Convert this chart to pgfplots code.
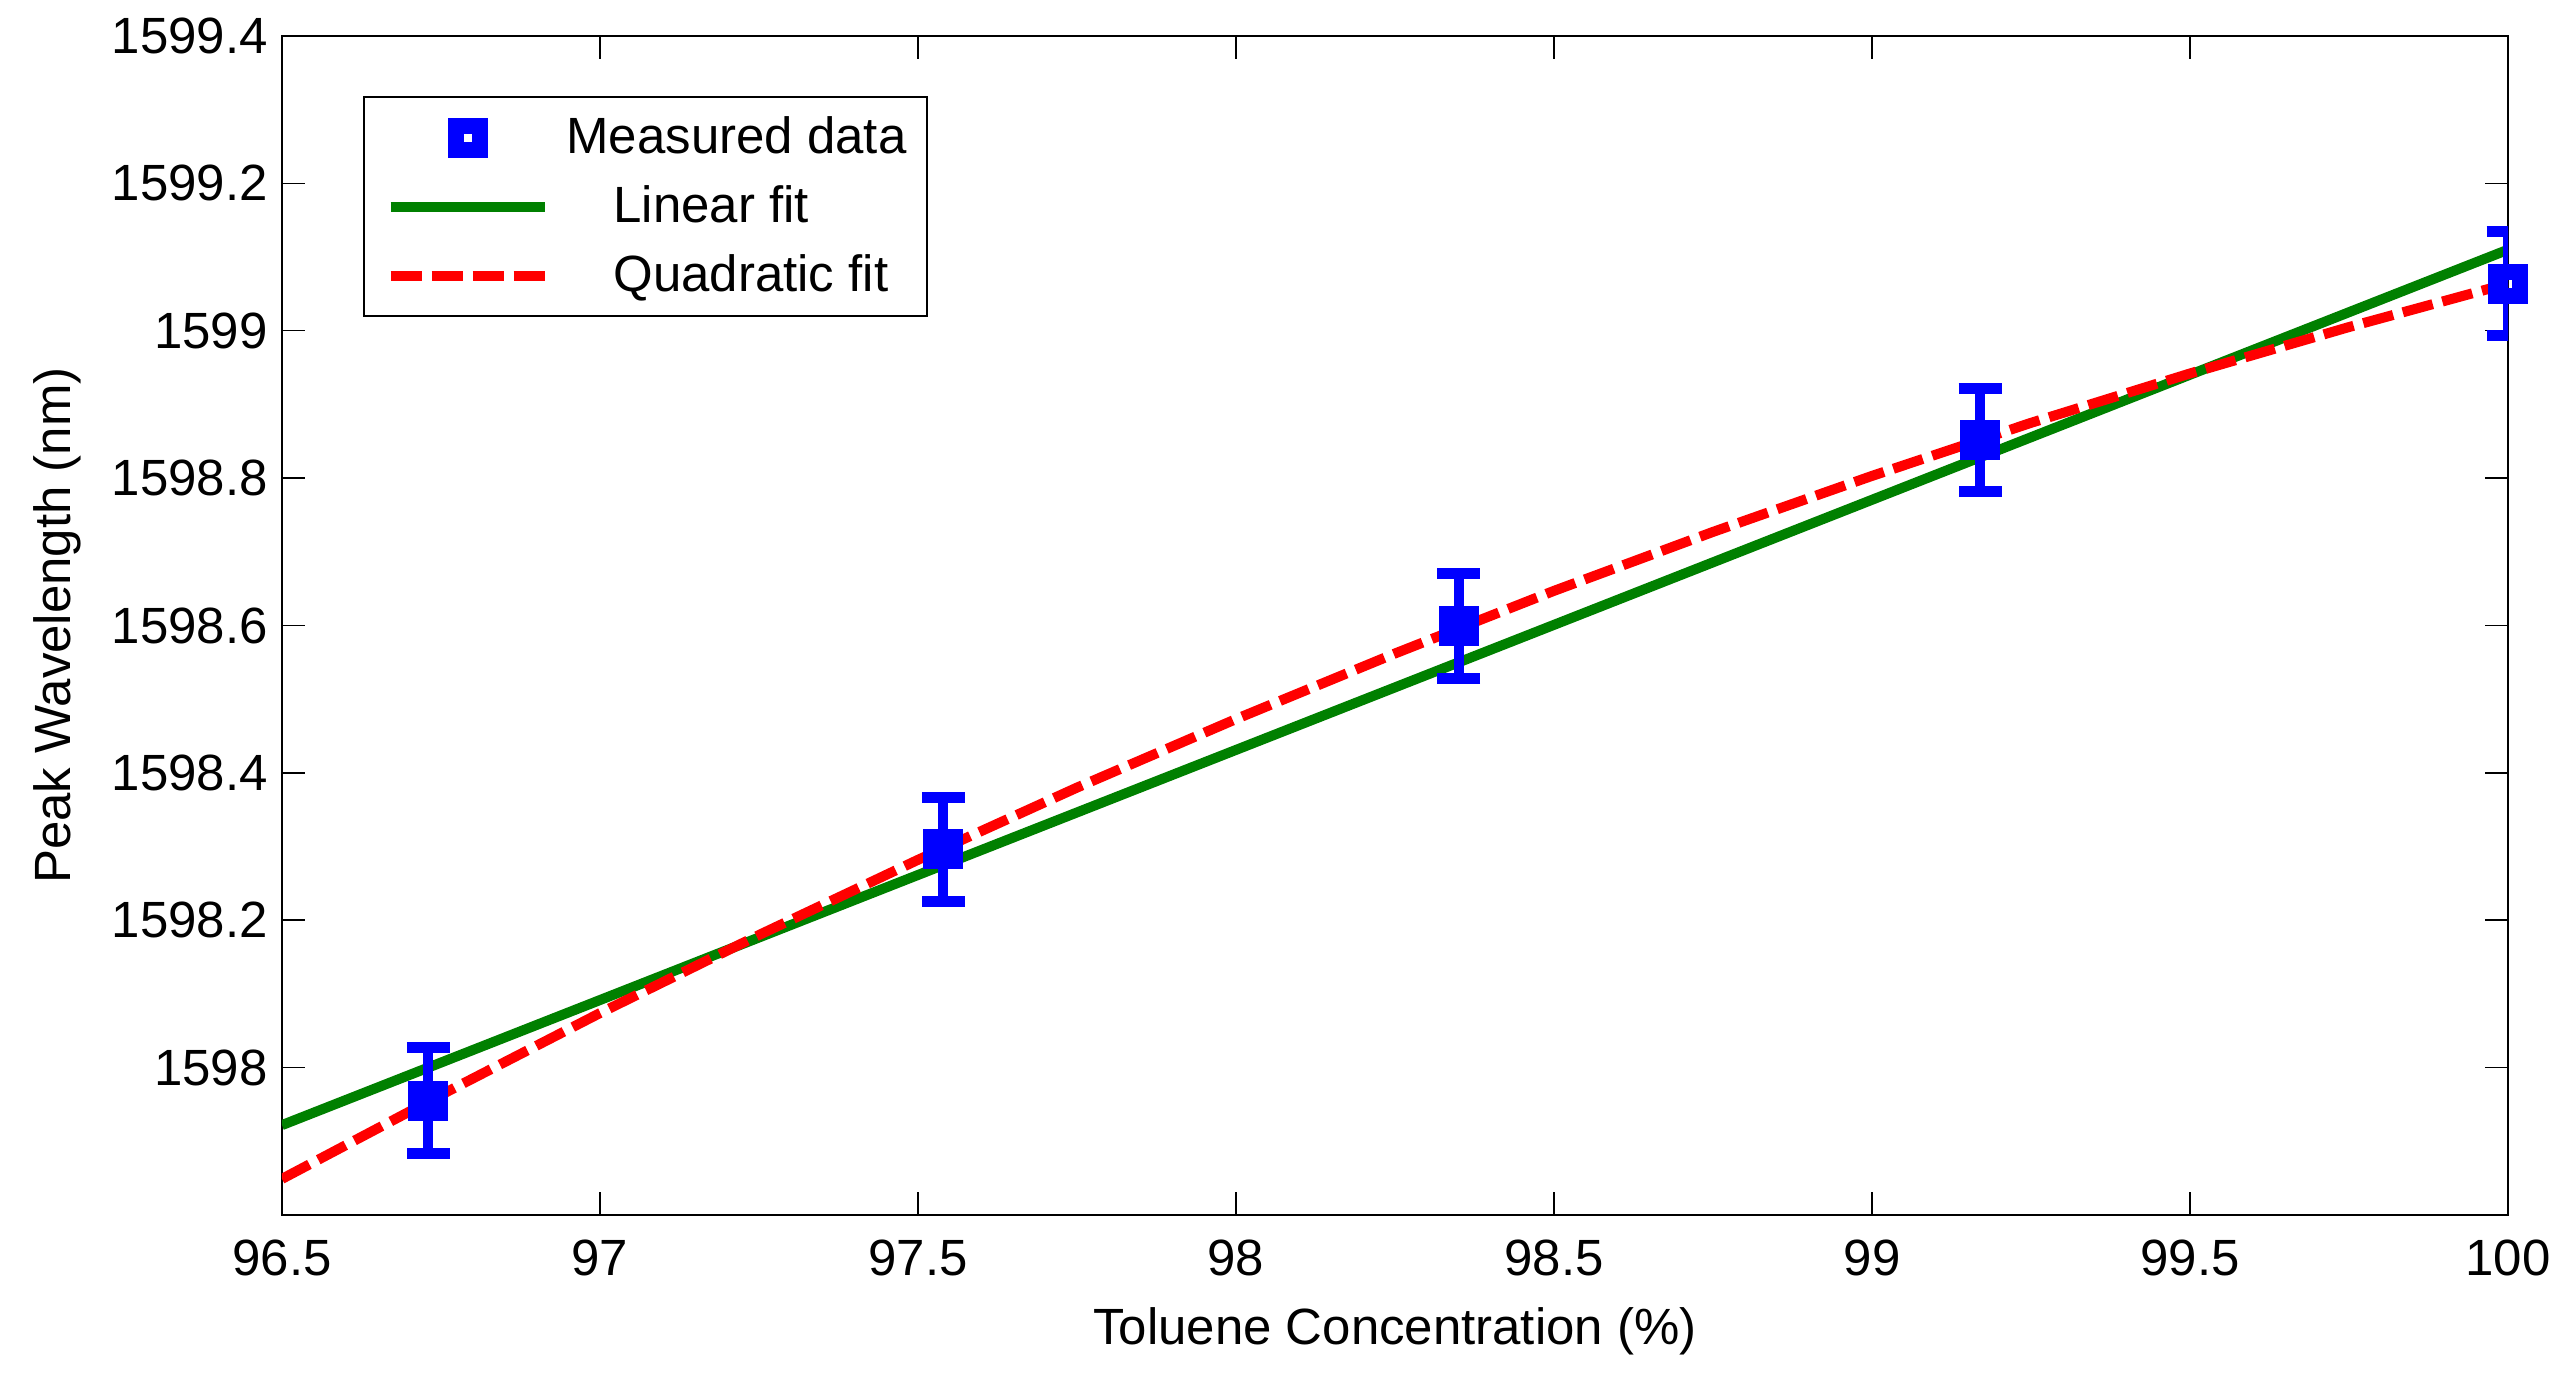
\documentclass[border=0pt]{standalone}
\usepackage{fontspec}
\setmainfont{Liberation Sans}
\usepackage{pgfplots}
\pgfplotsset{compat=1.18}
\definecolor{mgreen}{RGB}{0,128,0}
\definecolor{mblue}{RGB}{0,0,255}
\definecolor{mred}{RGB}{255,0,0}
\newcommand{\lfont}{\fontsize{14.5}{17}\selectfont}
\pgfplotsset{
  legline/.style={legend image code/.code={\path (0mm,0mm) (15.55mm,0mm); \draw[##1] (0.15mm,0mm) -- (15.55mm,0mm);}},
  legmark/.style={legend image code/.code={\path (0mm,0mm) (15.55mm,0mm); \draw[##1] plot coordinates {(7.85mm,0mm)};}},
}
\begin{document}
\begin{tikzpicture}
\begin{axis}[
  scale only axis, width=222.6mm, height=117.9mm,
  xmin=96.5, xmax=100, ymin=1597.8, ymax=1599.4,
  xtick={96.5,97,97.5,98,98.5,99,99.5,100},
  xticklabels={96.5,97,97.5,98,98.5,99,99.5,100},
  ytick={1598,1598.2,1598.4,1598.6,1598.8,1599,1599.2,1599.4},
  yticklabels={1598,1598.2,1598.4,1598.6,1598.8,1599,1599.2,1599.4},
  tick align=inside, major tick length=2.3mm,
  tick style={line width=0.15mm, black},
  axis line style={line width=0.25mm, black},
  tick label style={font=\lfont},
  x tick label style={yshift=-1.3mm},
  y tick label style={xshift=-0.2mm},
  xlabel={Toluene Concentration (\%)},
  ylabel={Peak Wavelength (nm)},
  label style={font=\lfont},
  x label style={at={(axis description cs:0.5,-0.099)}, anchor=center},
  y label style={at={(axis description cs:-0.101,0.5)}, anchor=center},
  legend cell align=left,
  legend style={at={(axis description cs:0.0364,0.949)}, anchor=north west,
    draw=black, line width=0.2mm, font=\lfont,
    inner xsep=2.0mm, inner ysep=0.6mm, column sep=0pt, row sep=0pt,
    nodes={inner sep=0pt, minimum height=6.9mm}},
]
% data (legend)
\addplot[only marks, mark=square, mark size=1.2mm,
  mark options={line width=1.6mm, draw=mblue, fill=none}, legmark,
  ] coordinates {(96.73,1597.955)};
\addlegendentry{\hspace*{1.7mm}Measured data}
% linear fit
\addplot[mgreen, line width=1mm, legline] coordinates {(96.5,1597.922) (100,1599.110)};
\addlegendentry{\hspace*{6.4mm}Linear fit}
% quadratic fit
\addplot[mred, line width=1mm, dash pattern=on 3.1mm off 1.0mm, legline] coordinates {
  (96.5,1597.849) (96.75,1597.963) (97.0,1598.074) (97.25,1598.180)
  (97.5,1598.282) (97.75,1598.380) (98.0,1598.473) (98.25,1598.562)
  (98.5,1598.647) (98.75,1598.727) (99.0,1598.803) (99.25,1598.875)
  (99.5,1598.942) (99.75,1599.005) (100.0,1599.064)};
\addlegendentry{\hspace*{6.4mm}Quadratic fit}
% data on top with error bars
\addplot[forget plot, only marks, mark=square, mark size=1.2mm,
  mark options={line width=1.6mm, draw=mblue, fill=none},
  error bars/.cd, y dir=both, y explicit,
  error bar style={line width=1mm, mblue},
  error mark options={rotate=90, line width=1.1mm, mark size=2.15mm, mblue},
  ] coordinates {
  (96.73,1597.955) +- (0,0.072)
  (97.54,1598.296) +- (0,0.071)
  (98.35,1598.599) +- (0,0.071)
  (99.17,1598.852) +- (0,0.070)
  (100.0,1599.064) +- (0,0.071)};
\coordinate (sw) at (rel axis cs:0,0);
\end{axis}
\pgfresetboundingbox
\path (sw) ++(-28.2mm,-17.1mm) rectangle ++(257.5mm,138.6mm);
\end{tikzpicture}
\end{document}
